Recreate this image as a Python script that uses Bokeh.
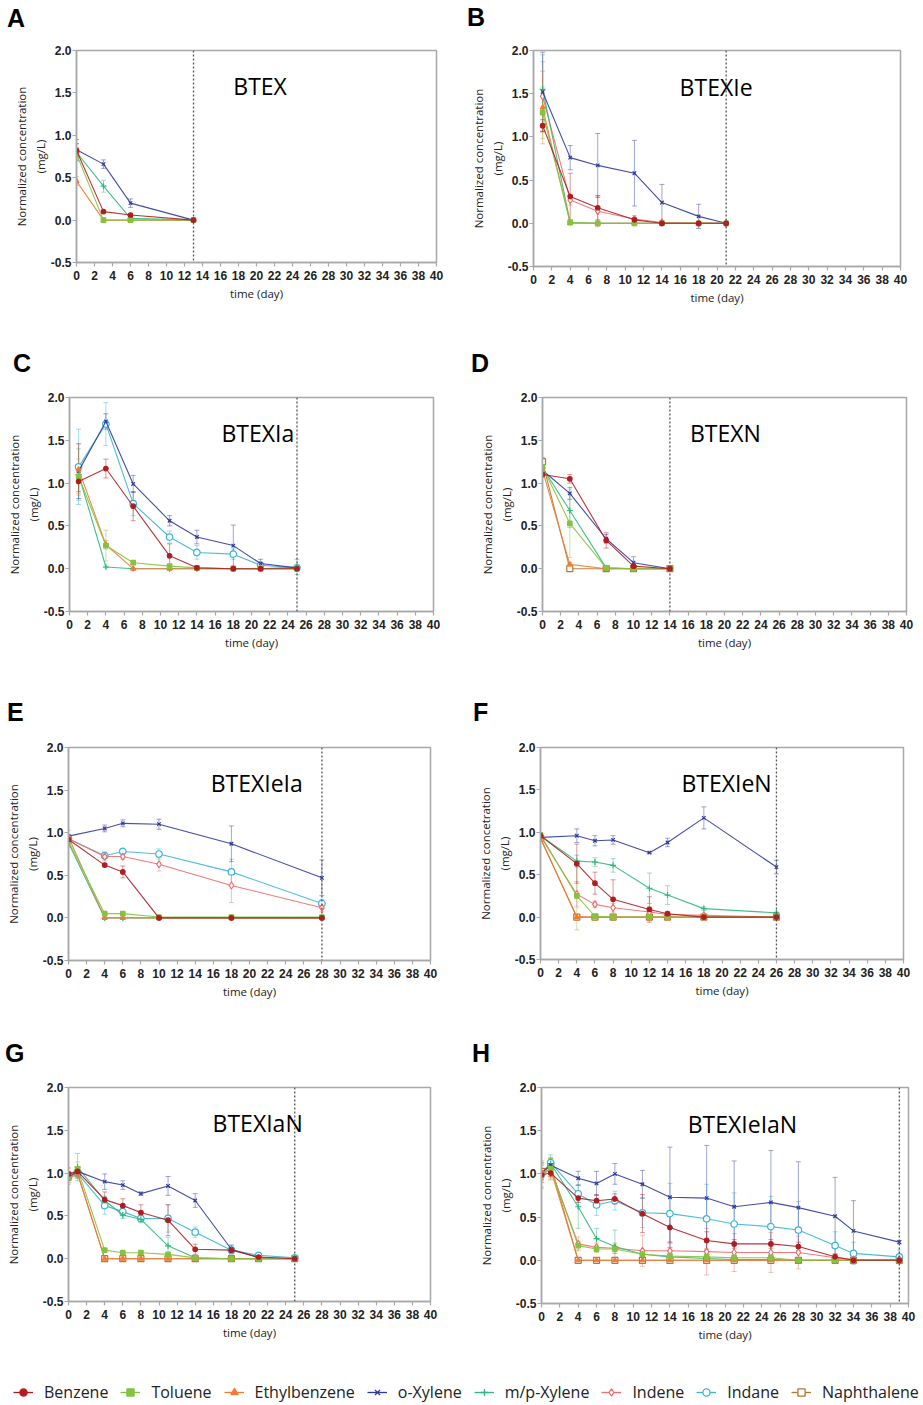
from bokeh.plotting import figure
from bokeh.layouts import column, row
from bokeh.models import (ColumnDataSource, Whisker, TeeHead, Span, Label, FixedTicker,
                          PrintfTickFormatter, Legend, LegendItem, Range1d, Div)
from bokeh.embed import file_html
from bokeh.resources import INLINE

SPECIES = ["Benzene", "Toluene", "Ethylbenzene", "o-Xylene", "m/p-Xylene",
           "Indene", "Indane", "Naphthalene"]
X_TICKS = list(range(0, 41, 2))
Y_TICKS = [-0.5, 0.0, 0.5, 1.0, 1.5, 2.0]

# ---- A: BTEX ----
A_days = [0, 3, 6, 13]
A_mean = {
    "Benzene":      [0.82, 0.10, 0.06, 0.00],
    "Toluene":      [0.78, 0.00, 0.00, 0.00],
    "Ethylbenzene": [0.46, 0.00, 0.00, 0.00],
    "o-Xylene":     [0.83, 0.66, 0.20, 0.00],
    "m/p-Xylene":   [0.80, 0.40, 0.02, 0.00],
}
A_err = {
    "Benzene":      [0.08, 0.01, 0.01, 0.00],
    "Toluene":      [0.08, 0.00, 0.00, 0.00],
    "Ethylbenzene": [0.05, 0.00, 0.00, 0.00],
    "o-Xylene":     [0.12, 0.05, 0.05, 0.00],
    "m/p-Xylene":   [0.10, 0.07, 0.01, 0.00],
}

# ---- B: BTEXIe ----
B_days = [1, 4, 7, 11, 14, 18, 21]
B_mean = {
    "Benzene":      [1.13, 0.31, 0.18, 0.04, 0.00, 0.00, 0.00],
    "Toluene":      [1.28, 0.01, 0.00, 0.00, 0.00, 0.00, 0.00],
    "Ethylbenzene": [1.34, 0.00, 0.00, 0.00, 0.00, 0.00, 0.00],
    "o-Xylene":     [1.52, 0.76, 0.67, 0.58, 0.24, 0.08, 0.00],
    "m/p-Xylene":   [1.55, 0.01, 0.00, 0.00, 0.00, 0.00, 0.00],
    "Indene":       [1.47, 0.27, 0.14, 0.05, 0.01, 0.00, 0.00],
}
B_err = {
    "Benzene":      [0.07, 0.27, 0.14, 0.02, 0.01, 0.00, 0.00],
    "Toluene":      [0.30, 0.01, 0.00, 0.00, 0.00, 0.00, 0.00],
    "Ethylbenzene": [0.42, 0.01, 0.00, 0.00, 0.00, 0.00, 0.00],
    "o-Xylene":     [0.46, 0.14, 0.37, 0.38, 0.21, 0.14, 0.00],
    "m/p-Xylene":   [0.40, 0.01, 0.00, 0.00, 0.00, 0.00, 0.00],
    "Indene":       [0.40, 0.06, 0.18, 0.04, 0.01, 0.00, 0.00],
}

# ---- C: BTEXIa ----
C_days = [1, 4, 7, 11, 14, 18, 21, 25]
C_mean = {
    "Benzene":      [1.02, 1.17, 0.73, 0.15, 0.01, 0.00, 0.00, 0.00],
    "Toluene":      [1.08, 0.27, 0.07, 0.03, 0.01, 0.00, 0.00, 0.00],
    "Ethylbenzene": [1.16, 0.28, 0.00, 0.00, 0.00, 0.00, 0.00, 0.00],
    "o-Xylene":     [1.14, 1.72, 0.99, 0.56, 0.37, 0.27, 0.06, 0.01],
    "m/p-Xylene":   [1.10, 0.02, 0.00, 0.00, 0.00, 0.00, 0.00, 0.02],
    "Indane":       [1.19, 1.69, 0.76, 0.37, 0.19, 0.17, 0.04, 0.01],
}
C_err = {
    "Benzene":      [0.12, 0.11, 0.17, 0.14, 0.01, 0.01, 0.00, 0.00],
    "Toluene":      [0.20, 0.18, 0.02, 0.01, 0.01, 0.00, 0.00, 0.00],
    "Ethylbenzene": [0.30, 0.05, 0.00, 0.00, 0.00, 0.00, 0.00, 0.00],
    "o-Xylene":     [0.32, 0.09, 0.10, 0.06, 0.08, 0.24, 0.05, 0.01],
    "m/p-Xylene":   [0.30, 0.01, 0.00, 0.00, 0.00, 0.00, 0.00, 0.09],
    "Indane":       [0.44, 0.25, 0.14, 0.07, 0.08, 0.06, 0.02, 0.01],
}

# ---- D: BTEXN ----
D_days = [0, 3, 7, 10, 14]
D_mean = {
    "Benzene":      [1.10, 1.05, 0.33, 0.03, 0.00],
    "Toluene":      [1.19, 0.53, 0.01, 0.00, 0.00],
    "Ethylbenzene": [1.15, 0.05, 0.00, 0.00, 0.00],
    "o-Xylene":     [1.15, 0.88, 0.35, 0.07, 0.00],
    "m/p-Xylene":   [1.18, 0.68, 0.01, 0.00, 0.00],
    "Naphthalene":  [1.25, 0.00, 0.00, 0.00, 0.00],
}
D_err = {
    "Benzene":      [0.03, 0.05, 0.09, 0.02, 0.00],
    "Toluene":      [0.05, 0.40, 0.01, 0.00, 0.00],
    "Ethylbenzene": [0.05, 0.02, 0.00, 0.00, 0.00],
    "o-Xylene":     [0.05, 0.07, 0.05, 0.07, 0.00],
    "m/p-Xylene":   [0.05, 0.20, 0.01, 0.00, 0.00],
    "Naphthalene":  [0.05, 0.01, 0.00, 0.00, 0.00],
}

# ---- E: BTEXIeIa ----
E_days = [0, 4, 6, 10, 18, 28]
E_mean = {
    "Benzene":      [0.92, 0.62, 0.54, 0.00, 0.00, 0.00],
    "Toluene":      [0.90, 0.05, 0.05, 0.01, 0.01, 0.01],
    "Ethylbenzene": [0.95, 0.00, 0.00, 0.00, 0.00, 0.00],
    "o-Xylene":     [0.96, 1.05, 1.11, 1.10, 0.87, 0.47],
    "m/p-Xylene":   [0.88, 0.00, 0.00, 0.00, 0.00, 0.00],
    "Indene":       [0.93, 0.72, 0.72, 0.63, 0.38, 0.12],
    "Indane":       [0.93, 0.73, 0.78, 0.75, 0.54, 0.17],
}
E_err = {
    "Benzene":      [0.03, 0.02, 0.07, 0.01, 0.00, 0.00],
    "Toluene":      [0.05, 0.01, 0.01, 0.00, 0.00, 0.00],
    "Ethylbenzene": [0.08, 0.00, 0.00, 0.00, 0.00, 0.00],
    "o-Xylene":     [0.02, 0.04, 0.04, 0.06, 0.21, 0.21],
    "m/p-Xylene":   [0.05, 0.00, 0.00, 0.00, 0.00, 0.00],
    "Indene":       [0.03, 0.05, 0.03, 0.08, 0.20, 0.05],
    "Indane":       [0.03, 0.04, 0.02, 0.06, 0.15, 0.05],
}

# ---- F: BTEXIeN ----
F_days = [0, 4, 6, 8, 12, 14, 18, 26]
F_mean = {
    "Benzene":      [0.96, 0.63, 0.40, 0.21, 0.09, 0.04, 0.00, 0.00],
    "Toluene":      [0.97, 0.25, 0.01, 0.00, 0.00, 0.00, 0.00, 0.00],
    "Ethylbenzene": [0.93, 0.00, 0.00, 0.00, 0.00, 0.00, 0.00, 0.00],
    "o-Xylene":     [0.94, 0.96, 0.90, 0.91, 0.76, 0.88, 1.17, 0.59],
    "m/p-Xylene":   [0.96, 0.66, 0.65, 0.61, 0.34, 0.26, 0.10, 0.05],
    "Indene":       [0.95, 0.27, 0.15, 0.11, 0.06, 0.03, 0.02, 0.00],
    "Naphthalene":  [0.93, 0.00, 0.00, 0.00, 0.00, 0.00, 0.00, 0.00],
}
F_err = {
    "Benzene":      [0.02, 0.23, 0.13, 0.23, 0.15, 0.02, 0.01, 0.00],
    "Toluene":      [0.02, 0.40, 0.01, 0.00, 0.00, 0.00, 0.00, 0.00],
    "Ethylbenzene": [0.02, 0.01, 0.00, 0.00, 0.00, 0.00, 0.00, 0.00],
    "o-Xylene":     [0.02, 0.08, 0.06, 0.05, 0.01, 0.05, 0.13, 0.08],
    "m/p-Xylene":   [0.02, 0.07, 0.05, 0.08, 0.18, 0.11, 0.02, 0.01],
    "Indene":       [0.02, 0.15, 0.04, 0.05, 0.06, 0.03, 0.01, 0.00],
    "Naphthalene":  [0.02, 0.01, 0.00, 0.00, 0.00, 0.00, 0.00, 0.00],
}

# ---- G: BTEXIaN ----
G_days = [0, 1, 4, 6, 8, 11, 14, 18, 21, 25]
G_mean = {
    "Benzene":      [0.99, 1.02, 0.69, 0.62, 0.54, 0.45, 0.11, 0.10, 0.02, 0.00],
    "Toluene":      [0.96, 1.05, 0.10, 0.07, 0.07, 0.05, 0.01, 0.00, 0.00, 0.00],
    "Ethylbenzene": [0.94, 0.99, 0.00, 0.00, 0.00, 0.00, 0.00, 0.00, 0.00, 0.00],
    "o-Xylene":     [0.95, 1.02, 0.90, 0.86, 0.76, 0.85, 0.68, 0.11, 0.01, 0.00],
    "m/p-Xylene":   [0.92, 1.07, 0.68, 0.51, 0.46, 0.15, 0.01, 0.00, 0.00, 0.00],
    "Indane":       [0.96, 1.00, 0.62, 0.55, 0.47, 0.47, 0.31, 0.10, 0.04, 0.01],
    "Naphthalene":  [0.97, 1.00, 0.00, 0.00, 0.00, 0.00, 0.00, 0.00, 0.00, 0.00],
}
G_err = {
    "Benzene":      [0.07, 0.05, 0.09, 0.08, 0.09, 0.18, 0.06, 0.02, 0.01, 0.00],
    "Toluene":      [0.05, 0.08, 0.01, 0.01, 0.01, 0.01, 0.00, 0.00, 0.00, 0.00],
    "Ethylbenzene": [0.05, 0.05, 0.00, 0.00, 0.00, 0.00, 0.00, 0.00, 0.00, 0.00],
    "o-Xylene":     [0.03, 0.03, 0.09, 0.05, 0.02, 0.11, 0.08, 0.05, 0.01, 0.00],
    "m/p-Xylene":   [0.05, 0.16, 0.05, 0.04, 0.04, 0.10, 0.01, 0.00, 0.00, 0.00],
    "Indane":       [0.04, 0.06, 0.10, 0.05, 0.04, 0.16, 0.06, 0.05, 0.02, 0.01],
    "Naphthalene":  [0.05, 0.05, 0.00, 0.00, 0.00, 0.00, 0.00, 0.00, 0.00, 0.00],
}

# ---- H: BTEXIeIaN ----
H_days = [0, 1, 4, 6, 8, 11, 14, 18, 21, 25, 28, 32, 34, 39]
H_mean = {
    "Benzene":      [0.99, 1.01, 0.72, 0.69, 0.71, 0.54, 0.38, 0.23, 0.19, 0.19, 0.16, 0.04, 0.00, 0.00],
    "Toluene":      [0.98, 1.06, 0.17, 0.13, 0.13, 0.07, 0.05, 0.04, 0.03, 0.03, 0.00, 0.00, 0.00, 0.00],
    "Ethylbenzene": [1.02, 1.05, 0.00, 0.00, 0.00, 0.00, 0.00, 0.00, 0.00, 0.00, 0.00, 0.00, 0.00, 0.00],
    "o-Xylene":     [1.01, 1.10, 0.95, 0.89, 1.00, 0.88, 0.73, 0.72, 0.62, 0.67, 0.61, 0.51, 0.34, 0.21],
    "m/p-Xylene":   [1.00, 1.12, 0.62, 0.25, 0.16, 0.07, 0.04, 0.02, 0.01, 0.01, 0.00, 0.00, 0.00, 0.00],
    "Indene":       [1.00, 1.06, 0.19, 0.15, 0.14, 0.11, 0.11, 0.10, 0.09, 0.09, 0.09, 0.03, 0.01, 0.01],
    "Indane":       [1.00, 1.13, 0.77, 0.64, 0.69, 0.55, 0.54, 0.48, 0.42, 0.39, 0.35, 0.17, 0.08, 0.04],
    "Naphthalene":  [1.03, 1.10, 0.00, 0.00, 0.00, 0.00, 0.00, 0.00, 0.00, 0.00, 0.00, 0.00, 0.00, 0.00],
}
H_err = {
    "Benzene":      [0.05, 0.04, 0.05, 0.07, 0.06, 0.22, 0.17, 0.10, 0.05, 0.05, 0.05, 0.03, 0.01, 0.00],
    "Toluene":      [0.15, 0.12, 0.05, 0.04, 0.05, 0.03, 0.03, 0.02, 0.02, 0.02, 0.00, 0.00, 0.00, 0.00],
    "Ethylbenzene": [0.10, 0.12, 0.01, 0.01, 0.01, 0.00, 0.00, 0.00, 0.00, 0.00, 0.00, 0.00, 0.00, 0.00],
    "o-Xylene":     [0.05, 0.05, 0.08, 0.14, 0.12, 0.16, 0.58, 0.61, 0.53, 0.60, 0.53, 0.45, 0.35, 0.02],
    "m/p-Xylene":   [0.15, 0.10, 0.25, 0.12, 0.19, 0.05, 0.03, 0.02, 0.01, 0.01, 0.00, 0.00, 0.00, 0.00],
    "Indene":       [0.10, 0.10, 0.08, 0.05, 0.06, 0.18, 0.10, 0.27, 0.22, 0.23, 0.19, 0.05, 0.02, 0.01],
    "Indane":       [0.10, 0.06, 0.10, 0.12, 0.11, 0.17, 0.35, 0.40, 0.36, 0.35, 0.33, 0.16, 0.13, 0.08],
    "Naphthalene":  [0.10, 0.08, 0.01, 0.01, 0.01, 0.00, 0.00, 0.00, 0.00, 0.00, 0.00, 0.00, 0.00, 0.00],
}

# last sampling day of each incubation (dotted marker)
END_DAY = {"A": 13, "B": 21, "C": 25, "D": 14, "E": 28, "F": 26, "G": 25, "H": 39}
NAMES = {"A": "BTEX", "B": "BTEXIe", "C": "BTEXIa", "D": "BTEXN",
         "E": "BTEXIeIa", "F": "BTEXIeN", "G": "BTEXIaN", "H": "BTEXIeIaN"}
DATA = {"A": (A_days, A_mean, A_err), "B": (B_days, B_mean, B_err),
        "C": (C_days, C_mean, C_err), "D": (D_days, D_mean, D_err),
        "E": (E_days, E_mean, E_err), "F": (F_days, F_mean, F_err),
        "G": (G_days, G_mean, G_err), "H": (H_days, H_mean, H_err)}

# ---- styling ----
COLORS = {"Benzene": "#B01C22", "Toluene": "#84C240", "Ethylbenzene": "#F27B35",
          "o-Xylene": "#2F3A9C", "m/p-Xylene": "#2FB87C", "Indene": "#F26C6C",
          "Indane": "#3AB5D6", "Naphthalene": "#B8762F"}
MARKERS = {"Benzene": ("circle", 4.5, True), "Toluene": ("square", 4.5, True),
           "Ethylbenzene": ("triangle", 5, True), "o-Xylene": ("x", 5, False),
           "m/p-Xylene": ("cross", 6, False), "Indene": ("diamond", 7, False),
           "Indane": ("circle", 6.5, False), "Naphthalene": ("square", 6, False)}
DRAW_ORDER = ["Naphthalene", "Indane", "Indene", "m/p-Xylene", "o-Xylene",
              "Ethylbenzene", "Toluene", "Benzene"]

# cell geometry: width, height, border left/right/top/bottom, letter x/baseline, title x
GEOM = {
    "A": (461, 340, 76, 25, 50, 78, 7, 27, 20.4),
    "B": (462, 340, 72, 23, 50, 74, 6, 26, 19.9),
    "C": (461, 350, 69, 28, 57, 79, 13, 32, 20.7),
    "D": (462, 350, 81, 17, 57, 79, 10, 32, 20.1),
    "E": (461, 340, 68, 31, 57, 70, 7, 31, 20.8),
    "F": (462, 340, 79, 20, 57, 71, 12, 31, 20.5),
    "G": (461, 340, 68, 31, 57, 69, 5, 32, 20.9),
    "H": (462, 340, 80, 15, 57, 67, 11, 32, 21.9),
}
STRIP_H = 40   # height of the strip that carries the panel letter

AXIS_GREY = "#A8A8A8"
TEXT_DARK = "#222222"


def make_letter_strip(key):
    w, h, bl, br, bt, bb, lx, lbase, tx = GEOM[key]
    # 25px Liberation Sans on a 25px line: baseline sits ~21px below the line top
    top = lbase - 21
    html = ('<div style="position:relative; left:%dpx; top:%dpx; margin:0; padding:0; '
            'font-family:\'Liberation Sans\', Arial, sans-serif; font-weight:bold; '
            'font-size:25px; line-height:25px; color:#000;">%s</div>' % (lx, top, key))
    return Div(text=html, width=w, height=STRIP_H, margin=0)


def make_panel(key):
    w, h, bl, br, bt, bb, lx, lbase, tx = GEOM[key]
    days, mean, err = DATA[key]
    p = figure(width=w, height=h - STRIP_H, x_range=Range1d(0, 40), y_range=Range1d(-0.5, 2.0),
               output_backend="svg", toolbar_location=None,
               min_border_left=bl, min_border_right=br,
               min_border_top=bt - STRIP_H, min_border_bottom=bb)
    p.grid.visible = False
    p.outline_line_color = AXIS_GREY
    p.outline_line_width = 1.5
    p.background_fill_color = "white"

    p.xaxis.ticker = FixedTicker(ticks=X_TICKS, minor_ticks=[])
    p.yaxis.ticker = FixedTicker(ticks=Y_TICKS, minor_ticks=[])
    p.yaxis.formatter = PrintfTickFormatter(format="%.1f")
    for ax in (p.xaxis, p.yaxis):
        ax.axis_line_color = AXIS_GREY
        ax.axis_line_width = 1.5
        ax.major_tick_line_color = AXIS_GREY
        ax.major_tick_line_width = 1.2
        ax.major_tick_out = 4
        ax.major_tick_in = 0
        ax.minor_tick_line_color = None
        ax.major_label_text_font = "Liberation Sans"
        ax.major_label_text_font_style = "bold"
        ax.major_label_text_font_size = "12px"
        ax.major_label_text_color = TEXT_DARK
        ax.axis_label_text_font = "Open Sans"
        ax.axis_label_text_font_style = "normal"
        ax.axis_label_text_font_size = "11.5px"
        ax.axis_label_text_color = TEXT_DARK
    p.xaxis.major_label_standoff = 4
    p.yaxis.major_label_standoff = 1
    p.xaxis.axis_label = "time (day)"
    p.xaxis.axis_label_standoff = 3
    ylab = "Normalized concetration" if key == "F" else "Normalized concentration"
    p.yaxis.axis_label = ylab + "\n(mg/L)"
    p.yaxis.axis_label_standoff = 0
    p.yaxis.axis_label_text_line_height = 1.25

    # error bars first, then lines and markers
    for sp in DRAW_ORDER:
        if sp not in mean:
            continue
        c = COLORS[sp]
        xs = [d for d, e in zip(days, err[sp]) if e > 0]
        up = [m + e for m, e in zip(mean[sp], err[sp]) if e > 0]
        lo = [m - e for m, e in zip(mean[sp], err[sp]) if e > 0]
        wsrc = ColumnDataSource(dict(x=xs, upper=up, lower=lo))
        p.add_layout(Whisker(source=wsrc, base="x", upper="upper", lower="lower",
                             line_color=c, line_alpha=0.45, line_width=1,
                             upper_head=TeeHead(size=5, line_color=c, line_alpha=0.45),
                             lower_head=TeeHead(size=5, line_color=c, line_alpha=0.45)))

    for sp in DRAW_ORDER:
        if sp not in mean:
            continue
        c = COLORS[sp]
        src = ColumnDataSource(dict(x=days, y=mean[sp]))
        p.line("x", "y", source=src, line_color=c, line_width=1.1, line_alpha=0.9)
        marker, size, filled = MARKERS[sp]
        p.scatter("x", "y", source=src, marker=marker, size=size, line_color=c,
                  line_width=1.2, fill_color=c if filled else "white")

    p.add_layout(Span(location=END_DAY[key], dimension="height", line_color="#555555",
                      line_dash="2 2", line_width=1.3))

    p.add_layout(Label(x=tx, y=1.58, text=NAMES[key], text_font="Open Sans",
                       text_font_size="23px", text_color="black",
                       text_align="center", text_baseline="alphabetic"))
    return column(make_letter_strip(key), p, spacing=0)


cells = {k: make_panel(k) for k in "ABCDEFGH"}

# shared legend strip
lp = figure(width=923, height=35, output_backend="svg", toolbar_location=None,
            x_range=Range1d(0, 1), y_range=Range1d(0, 1),
            x_axis_type=None, y_axis_type=None, min_border=0)
lp.grid.visible = False
lp.outline_line_color = None
items = []
for sp in SPECIES:
    c = COLORS[sp]
    src = ColumnDataSource(dict(x=[float("nan")], y=[float("nan")]))
    r1 = lp.line("x", "y", source=src, line_color=c, line_width=1.3)
    marker, size, filled = MARKERS[sp]
    r2 = lp.scatter("x", "y", source=src, marker=marker, size=size + 2, line_color=c,
                    line_width=1.3, fill_color=c if filled else "white")
    items.append(LegendItem(label=sp, renderers=[r1, r2]))
legend = Legend(items=items, orientation="horizontal", location=(13, 2),
                label_text_font="Open Sans", label_text_font_size="16px",
                label_text_color=TEXT_DARK, glyph_width=20, glyph_height=18,
                label_height=18, label_standoff=11, spacing=12, padding=0, margin=0,
                border_line_color=None, background_fill_alpha=0)
lp.add_layout(legend)

layout = column(
    row(cells["A"], cells["B"], spacing=0),
    row(cells["C"], cells["D"], spacing=0),
    row(cells["E"], cells["F"], spacing=0),
    row(cells["G"], cells["H"], spacing=0),
    lp,
    spacing=0,
)

open("out.html", "w").write(file_html(layout, INLINE))
